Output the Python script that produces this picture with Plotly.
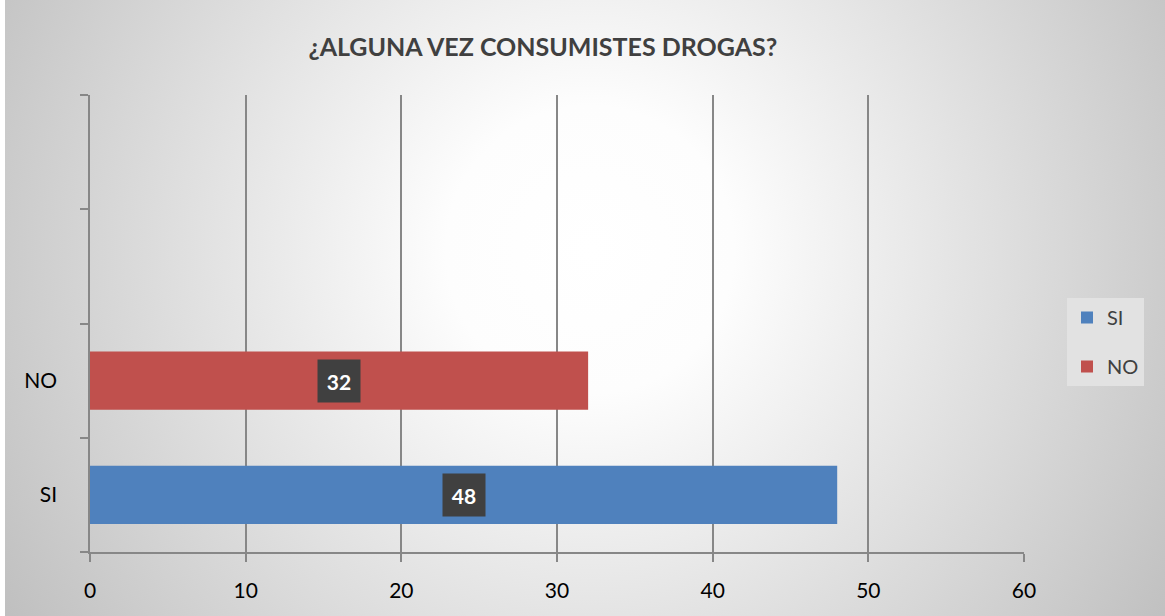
import base64
import plotly.graph_objects as go

# data
categories = ["SI", "NO", " ", "  "]
series_names = ["SI", "NO"]
series_values = [48, 32]
series_colors = ["#4F81BD", "#C0504D"]
x_ticks = [0, 10, 20, 30, 40, 50, 60]

title = "¿ALGUNA VEZ CONSUMISTES DROGAS?"

W, H = 1165, 616
ML, MR, MT, MB = 90, 141, 95, 64
PW, PH = W - ML - MR, H - MT - MB

# radial grey background like the Excel chart area
svg = f"""<svg xmlns='http://www.w3.org/2000/svg' width='{W}' height='{H}'>
<defs><radialGradient id='g' gradientUnits='userSpaceOnUse' cx='590' cy='250' r='720'>
<stop offset='0' stop-color='#ffffff'/><stop offset='0.2' stop-color='#fdfdfd'/>
<stop offset='1' stop-color='#bcbcbc'/></radialGradient></defs>
<rect x='5' y='0' width='{W-5}' height='{H}' fill='url(#g)'/></svg>"""
bg_uri = "data:image/svg+xml;base64," + base64.b64encode(svg.encode()).decode()

fig = go.Figure()

for name, val, col in zip(series_names, series_values, series_colors):
    fig.add_trace(go.Bar(y=[name], x=[val],
                         orientation="h",
                         name=name,
                         legendgroup=name,
                         width=0.51,
                         marker=dict(color=col, line=dict(width=0))))
    fig.add_annotation(x=val / 2, y=name,
                       text=f"<b>{val}</b>",
                       showarrow=False,
                       font=dict(family="Lato", size=21, color="white"),
                       bgcolor="#404040",
                       width=30, height=30, borderpad=6)

fig.update_layout(width=W, height=H,
                  margin=dict(l=ML, r=MR, t=MT, b=MB, pad=0),
                  barmode="overlay",
                  title=dict(text=f"<b>{title}</b>", x=0.466, xanchor="center",
                             y=1 - 47 / H, yanchor="middle",
                             font=dict(family="Lato", size=25, color="#404040")),
                  font=dict(family="Lato", size=21, color="black"),
                  paper_bgcolor="white",
                  plot_bgcolor="rgba(0,0,0,0)",
                  legend=dict(x=(1067 - ML) / PW, xanchor="left",
                              y=(H - MB - 342) / PH, yanchor="middle",
                              bgcolor="#e2e2e2",
                              font=dict(family="Lato", size=20, color="#404040"),
                              tracegroupgap=20,
                              itemwidth=30),
                  images=[dict(source=bg_uri, xref="paper", yref="paper",
                               x=-ML / PW, y=1 + MT / PH,
                               sizex=W / PW, sizey=H / PH,
                               xanchor="left", yanchor="top",
                               sizing="stretch", layer="below")])

fig.update_xaxes(range=[0, 60], tickvals=x_ticks,
                 showgrid=True, gridcolor="#878787", gridwidth=1.5,
                 zeroline=False,
                 showline=True, linecolor="#878787", linewidth=1.5,
                 ticks="outside", ticklen=8, tickcolor="#878787", tickwidth=1.5,
                 ticklabelstandoff=11)

fig.update_yaxes(type="category", categoryorder="array", categoryarray=categories,
                 range=[-0.5, 3.5], tickson="boundaries",
                 showgrid=False, zeroline=False,
                 showline=True, linecolor="#878787", linewidth=1.5,
                 ticks="outside", ticklen=8, tickcolor="#878787", tickwidth=1.5,
                 ticklabelstandoff=27)

fig.write_html("out.html", config={"displayModeBar": False},
               post_script="document.body.style.margin='0px';")
